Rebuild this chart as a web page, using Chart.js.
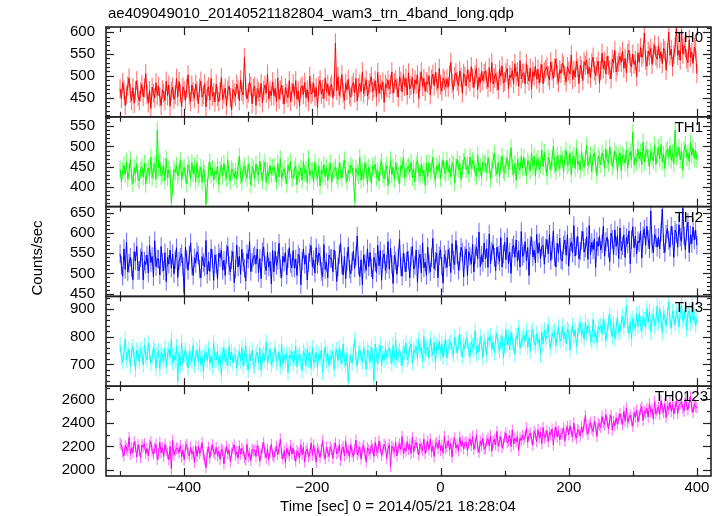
<!DOCTYPE html>
<html><head><meta charset="utf-8">
<script src="https://cdn.jsdelivr.net/npm/chart.js@4/dist/chart.umd.min.js"></script>
<style>html,body{margin:0;padding:0;background:#fff}canvas{display:block}</style>
</head><body>
<canvas id="c" width="723" height="516" style="width:723px;height:516px"></canvas>
<script>
const titleText = "ae409049010_20140521182804_wam3_trn_4band_long.qdp";
const xTitle = "Time [sec] 0 = 2014/05/21 18:28:04";
const yTitle = "Counts/sec";
const panelNames = ["TH0", "TH1", "TH2", "TH3", "TH0123"];
const xTicks = [-400, -200, 0, 200, 400];
const yTicksTH0 = [450, 500, 550, 600];
const yTicksTH1 = [400, 450, 500, 550];
const yTicksTH2 = [450, 500, 550, 600, 650];
const yTicksTH3 = [700, 800, 900];
const yTicksTH0123 = [2000, 2200, 2400, 2600];
// typical error-bar half length (counts/sec)
const errTH0 = 22, errTH1 = 21, errTH2 = 23, errTH3 = 28, errTH0123 = 48;

const timeSec = [
-500,-498,-496,-494,-492,-490,-488,-486,-484,-482,-480,-478,-476,-474,-472,
-470,-468,-466,-464,-462,-460,-458,-456,-454,-452,-450,-448,-446,-444,-442,
-440,-438,-436,-434,-432,-430,-428,-426,-424,-422,-420,-418,-416,-414,-412,
-410,-408,-406,-404,-402,-400,-398,-396,-394,-392,-390,-388,-386,-384,-382,
-380,-378,-376,-374,-372,-370,-368,-366,-364,-362,-360,-358,-356,-354,-352,
-350,-348,-346,-344,-342,-340,-338,-336,-334,-332,-330,-328,-326,-324,-322,
-320,-318,-316,-314,-312,-310,-308,-306,-304,-302,-300,-298,-296,-294,-292,
-290,-288,-286,-284,-282,-280,-278,-276,-274,-272,-270,-268,-266,-264,-262,
-260,-258,-256,-254,-252,-250,-248,-246,-244,-242,-240,-238,-236,-234,-232,
-230,-228,-226,-224,-222,-220,-218,-216,-214,-212,-210,-208,-206,-204,-202,
-200,-198,-196,-194,-192,-190,-188,-186,-184,-182,-180,-178,-176,-174,-172,
-170,-168,-166,-164,-162,-160,-158,-156,-154,-152,-150,-148,-146,-144,-142,
-140,-138,-136,-134,-132,-130,-128,-126,-124,-122,-120,-118,-116,-114,-112,
-110,-108,-106,-104,-102,-100,-98,-96,-94,-92,-90,-88,-86,-84,-82,
-80,-78,-76,-74,-72,-70,-68,-66,-64,-62,-60,-58,-56,-54,-52,
-50,-48,-46,-44,-42,-40,-38,-36,-34,-32,-30,-28,-26,-24,-22,
-20,-18,-16,-14,-12,-10,-8,-6,-4,-2,0,2,4,6,8,
10,12,14,16,18,20,22,24,26,28,30,32,34,36,38,
40,42,44,46,48,50,52,54,56,58,60,62,64,66,68,
70,72,74,76,78,80,82,84,86,88,90,92,94,96,98,
100,102,104,106,108,110,112,114,116,118,120,122,124,126,128,
130,132,134,136,138,140,142,144,146,148,150,152,154,156,158,
160,162,164,166,168,170,172,174,176,178,180,182,184,186,188,
190,192,194,196,198,200,202,204,206,208,210,212,214,216,218,
220,222,224,226,228,230,232,234,236,238,240,242,244,246,248,
250,252,254,256,258,260,262,264,266,268,270,272,274,276,278,
280,282,284,286,288,290,292,294,296,298,300,302,304,306,308,
310,312,314,316,318,320,322,324,326,328,330,332,334,336,338,
340,342,344,346,348,350,352,354,356,358,360,362,364,366,368,
370,372,374,376,378,380,382,384,386,388,390,392,394,396,398,
400];

const th0 = [
470,448,484,467,432,456,477,495,460,443,473,437,466,489,453,
443,463,480,452,472,505,457,438,466,425,474,460,449,484,455,
476,451,432,468,460,443,488,454,479,430,465,474,446,457,494,
452,487,460,429,475,466,444,471,502,456,441,479,463,448,481,
465,436,472,488,451,457,482,429,467,475,444,494,453,462,440,
481,453,441,464,496,446,458,472,431,467,477,450,422,469,461,
452,481,469,443,491,464,456,542,473,447,461,485,477,436,471,
476,432,471,463,451,483,438,467,479,460,504,447,465,454,486,
454,471,440,495,446,467,478,457,435,473,460,450,489,441,462,
482,453,489,446,465,430,472,477,457,485,450,468,441,499,458,
463,483,452,473,427,477,490,458,469,448,495,464,481,455,474,
480,449,476,575,466,498,455,472,503,461,444,483,467,492,456,
451,477,485,460,494,442,473,482,464,509,459,475,491,454,467,
484,498,464,471,489,452,508,460,480,468,486,439,481,473,490,
470,480,509,460,484,491,473,451,498,488,463,503,476,494,456,
507,470,478,496,459,491,481,502,448,488,509,475,494,464,486,
481,500,456,492,504,477,508,486,471,517,479,465,495,489,474,
493,474,502,531,483,468,498,507,488,477,511,496,460,505,499,
477,514,493,486,521,495,473,503,518,468,497,483,510,489,505,
511,492,474,519,485,530,481,495,505,488,468,514,499,523,483,
487,507,517,471,502,496,512,482,528,499,509,476,535,493,505,
507,481,528,502,488,518,470,510,499,522,492,515,483,506,526,
482,509,515,521,500,490,532,511,494,518,539,502,485,514,505,
529,523,501,486,521,511,504,548,492,513,497,534,518,482,524,
515,489,532,524,536,504,520,495,530,543,511,501,521,534,483,
513,552,516,534,504,545,524,514,493,538,529,558,509,523,532,
545,531,556,517,540,507,551,559,529,520,550,526,535,498,553,
531,565,542,550,598,536,522,557,547,563,526,553,571,545,538,
569,540,555,528,563,558,513,552,600,547,561,521,549,565,610,
547,558,536,605,550,569,563,539,530,583,542,554,528,566,560,
505];

const th1 = [
445,414,441,454,431,463,420,437,468,426,409,448,432,457,421,
416,442,450,425,459,407,438,447,429,474,424,440,456,419,540,
447,461,427,434,452,415,471,423,443,431,362,402,444,436,453,
427,437,466,417,441,448,430,408,455,445,420,460,433,451,413,
460,423,431,449,412,444,434,358,401,441,462,428,447,417,439,
431,450,406,442,454,427,458,436,421,467,429,415,445,439,424,
438,419,447,476,428,413,443,452,433,422,456,441,405,450,444,
420,457,436,429,464,438,416,446,461,411,440,426,453,432,448,
451,432,414,459,425,470,421,435,445,428,408,454,439,463,423,
422,442,452,406,437,431,447,417,463,434,444,411,470,428,440,
440,414,461,435,421,451,403,443,432,455,425,448,416,439,459,
410,437,443,449,428,418,460,439,422,446,467,430,413,442,433,
454,448,426,365,446,436,429,473,417,438,422,459,443,407,449,
435,409,452,444,456,424,440,415,450,463,431,421,441,454,403,
428,467,431,449,419,460,439,429,408,453,444,473,424,438,447,
451,437,462,423,446,413,457,465,435,426,456,432,441,404,459,
426,460,437,445,473,431,417,452,442,458,421,448,466,440,433,
466,437,452,425,460,455,410,449,469,444,458,418,446,462,474,
443,454,432,474,446,465,459,435,426,479,438,450,424,462,456,
458,436,472,455,420,444,465,483,448,431,461,425,454,477,441,
435,455,472,444,464,497,449,430,458,417,466,452,441,476,447,
473,448,429,465,457,440,485,451,476,427,462,471,443,454,491,
450,485,458,427,473,464,442,469,500,454,439,477,461,446,479,
467,438,474,490,453,459,484,431,469,477,446,496,455,464,442,
488,460,448,471,503,453,465,479,438,474,484,457,429,476,468,
455,484,472,446,494,467,459,499,476,450,464,488,480,439,474,
484,440,479,471,459,491,446,475,487,468,535,455,473,462,494,
469,486,455,510,461,482,493,472,450,488,475,465,504,456,477,
498,469,505,462,481,446,488,493,473,501,466,484,457,540,474,
478,498,467,488,442,492,505,473,484,463,510,479,496,470,489,
468];

const th2 = [
549,520,493,561,510,578,504,525,540,514,484,554,531,567,507,
508,539,554,484,531,522,546,501,570,527,542,492,581,517,536,
536,496,567,528,507,552,480,540,523,558,513,548,499,534,564,
490,531,540,549,517,452,566,534,508,545,576,520,495,539,525,
554,545,511,489,542,527,516,582,498,530,505,561,537,483,546,
525,486,551,539,557,508,533,495,548,567,519,504,534,554,477,
511,570,516,543,498,560,528,513,481,549,536,579,505,527,540,
545,523,561,502,537,487,554,566,520,507,552,516,530,474,557,
504,555,520,533,575,511,490,543,528,552,496,537,564,525,514,
557,513,536,495,548,540,472,531,561,523,545,484,527,551,569,
517,534,501,564,522,551,542,505,492,572,510,528,489,546,537,
537,504,558,533,480,516,548,575,522,496,542,487,531,566,511,
499,530,555,513,543,593,520,492,534,472,546,525,508,561,517,
552,514,486,540,528,502,570,519,557,483,536,549,507,523,579,
510,563,522,475,545,531,498,539,585,516,493,551,527,504,554,
533,489,543,567,511,520,558,478,536,548,501,576,514,528,495,
565,522,504,539,587,512,530,551,489,544,559,518,476,547,535,
515,559,541,502,574,533,521,582,547,508,529,565,553,491,544,
561,495,554,542,523,572,504,548,566,537,603,517,545,528,576,
536,562,515,598,524,556,572,540,507,565,545,530,589,516,548,
578,534,589,524,553,500,563,571,540,583,530,557,516,604,542,
549,579,532,564,495,570,590,541,558,526,597,550,576,537,566,
570,523,564,584,549,597,532,558,605,541,516,575,550,588,534,
531,571,583,545,596,518,565,578,551,619,543,568,592,536,555,
583,604,553,563,591,535,619,547,577,559,586,515,579,567,592,
558,573,617,543,579,590,562,529,600,585,547,608,567,594,537,
613,557,569,596,540,589,573,605,524,584,616,564,593,548,581,
576,605,538,593,611,570,617,584,561,655,573,552,597,588,565,
590,561,603,660,574,552,597,611,582,565,617,594,540,608,599,
565,621,590,579,662,593,559,605,627,552,596,574,615,583,608,
570];

const th3 = [
770,727,709,744,792,717,735,756,694,749,764,723,681,752,740,
710,754,736,697,769,728,716,777,742,703,724,760,748,686,739,
749,683,742,730,711,760,692,736,754,725,791,705,733,716,764,
640,742,695,778,704,736,752,720,687,745,725,710,769,696,728,
752,708,763,698,727,674,737,745,714,757,704,731,690,778,716,
717,747,700,732,663,738,758,709,726,694,765,718,744,705,734,
733,686,727,747,712,760,695,721,768,704,679,738,713,751,697,
693,733,745,707,758,680,727,740,713,781,705,730,754,698,717,
738,759,708,718,746,690,774,702,732,714,741,670,734,722,747,
706,721,765,691,727,738,710,677,748,733,695,756,715,742,685,
760,704,716,743,687,736,720,752,671,731,763,711,740,695,728,
719,748,681,736,754,713,760,727,704,773,716,695,740,636,708,
733,704,746,790,717,695,740,754,725,708,760,737,683,751,742,
707,763,732,640,774,735,701,747,769,694,738,716,757,725,750,
759,730,703,771,720,788,714,735,750,724,694,764,741,777,717,
728,759,774,704,751,742,766,721,790,747,762,712,801,737,756,
763,723,794,755,734,779,707,767,750,785,740,775,726,761,791,
723,764,773,782,750,735,799,767,741,778,809,753,728,772,758,
794,785,751,729,782,767,756,822,738,770,745,801,777,723,786,
772,733,798,786,804,755,780,742,795,814,766,751,781,801,724,
766,825,771,798,753,815,783,768,736,804,791,834,760,782,795,
805,783,821,762,797,747,814,826,780,767,812,776,790,734,817,
774,825,790,803,845,781,760,813,798,822,766,807,834,795,784,
837,793,816,775,828,820,752,811,841,803,825,764,807,831,849,
807,824,791,854,812,841,832,795,782,862,800,818,779,836,827,
842,809,863,838,785,821,853,880,827,801,847,792,836,871,816,
819,850,875,833,863,913,840,812,854,792,866,845,828,881,837,
885,847,819,873,861,835,903,852,890,816,869,882,840,856,912,
850,903,862,815,885,871,838,879,925,856,833,891,867,844,894,
880,836,890,914,858,867,905,825,883,895,848,923,861,875,842,
865];

const th0123 = [
2228,2213,2157,2120,2208,2183,2165,2275,2135,2188,2147,2240,2200,2110,2215,
2170,2105,2213,2193,2223,2142,2183,2120,2208,2240,2160,2135,2185,2218,2090,
2137,2235,2145,2190,2115,2218,2165,2140,2087,2200,2010,2250,2127,2163,2185,
2183,2147,2210,2112,2170,2087,2198,2218,2142,2120,2195,2135,2158,2065,2203,
2115,2200,2142,2163,2233,2127,2092,2020,2155,2195,2102,2170,2215,2150,2132,
2193,2120,2158,2090,2178,2165,2052,2150,2200,2137,2173,2072,2143,2183,2213,
2127,2155,2100,2205,2135,2183,2168,2107,2085,2218,2115,2145,2080,2175,2160,
2170,2115,2205,2163,2075,2135,2188,2233,2145,2102,2178,2087,2160,2218,2127,
2107,2158,2200,2130,2180,2263,2142,2095,2165,2062,2185,2150,2122,2210,2137,
2185,2122,2075,2165,2145,2102,2215,2130,2193,2070,2158,2180,2110,2137,2230,
2125,2213,2145,2067,2183,2160,2105,2173,2250,2135,2097,2193,2153,2115,2198,
2173,2100,2190,2230,2137,2152,2215,2082,2178,2198,2120,2245,2142,2165,2110,
2218,2147,2117,2175,2255,2130,2160,2195,2092,2183,2208,2140,2070,2188,2168,
2137,2210,2180,2115,2235,2167,2147,2248,2190,2125,2160,2220,2200,2097,2185,
2215,2030,2203,2183,2152,2233,2120,2193,2223,2175,2285,2142,2188,2160,2240,
2175,2218,2140,2278,2155,2208,2235,2182,2127,2223,2190,2165,2263,2142,2195,
2245,2172,2263,2155,2203,2115,2220,2233,2182,2253,2165,2210,2142,2288,2185,
2200,2250,2172,2225,2110,2235,2268,2187,2215,2162,2280,2202,2245,2180,2228,
2240,2162,2230,2263,2205,2285,2177,2220,2298,2192,2150,2248,2207,2270,2180,
2182,2248,2268,2205,2290,2160,2238,2260,2215,2328,2202,2243,2283,2190,2222,
2280,2315,2230,2247,2293,2200,2340,2220,2270,2240,2285,2167,2273,2253,2295,
2260,2285,2358,2235,2295,2313,2267,2212,2330,2305,2242,2343,2275,2320,2225,
2363,2270,2290,2335,2242,2323,2297,2350,2215,2315,2368,2282,2330,2255,2310,
2310,2358,2247,2338,2368,2300,2378,2323,2285,2400,2305,2270,2345,2330,2292,
2368,2320,2390,2463,2342,2305,2380,2403,2355,2327,2413,2375,2285,2398,2383,
2362,2455,2403,2385,2473,2408,2352,2428,2465,2340,2413,2377,2445,2392,2433,
2480,2432,2387,2500,2415,2528,2405,2440,2465,2422,2372,2488,2450,2510,2410,
2462,2513,2538,2422,2500,2485,2525,2450,2565,2493,2518,2435,2583,2477,2508,
2538,2472,2590,2525,2490,2565,2445,2545,2517,2575,2500,2558,2477,2535,2585,
2482,2550,2565,2580,2527,2502,2608,2555,2512,2573,2625,2532,2490,2563,2540,
2530];

const seriesValues = [th0, th1, th2, th3, th0123];
const seriesErr = [errTH0, errTH1, errTH2, errTH3, errTH0123];
const seriesTicks = [yTicksTH0, yTicksTH1, yTicksTH2, yTicksTH3, yTicksTH0123];

// styles / axis settings (not data)
const panelStyle = [
  {line:'#ff0000', bar:'rgba(255,0,0,0.55)',   min:406,  max:612,  minor:10,  major:50,  labelRight:703},
  {line:'#00ff00', bar:'rgba(0,255,0,0.55)',   min:352,  max:573,  minor:10,  major:50,  labelRight:703},
  {line:'#0000ff', bar:'rgba(0,0,255,0.55)',   min:443,  max:666,  minor:10,  major:50,  labelRight:703},
  {line:'#00ffff', bar:'rgba(0,255,255,0.55)', min:621,  max:946,  minor:20,  major:100, labelRight:703},
  {line:'#ff00ff', bar:'rgba(255,0,255,0.55)', min:1949, max:2713, minor:100, major:200, labelRight:708}
];
const FONT = "'Liberation Sans', Arial, Helvetica, sans-serif";
Chart.defaults.font.family = FONT;
Chart.defaults.font.size = 15;
Chart.defaults.color = '#000';

const datasets = [];
const scales = {
  x: {
    type:'linear', position:'bottom', min:-522, max:422, offset:false,
    grid:{display:false, drawTicks:false, offset:false}, border:{display:false},
    ticks:{padding:3, autoSkip:false, maxRotation:0, font:{size:15, family:FONT}, color:'#000',
      callback: v => (v < 0 ? '\u2212' + Math.abs(v) : String(v))},
    afterBuildTicks: s => { s.ticks = xTicks.map(v => ({value:v})); },
    afterFit: s => { s.height = 40; }
  }
};
// bottom panel defined first; the last-defined scale is placed on top of the stack
for (let i = seriesValues.length - 1; i >= 0; i--) {
  const st = panelStyle[i];
  scales['y' + i] = {
    type:'linear', position:'left', stack:'panels', stackWeight:1,
    min:st.min, max:st.max,
    grid:{display:false, drawTicks:false}, border:{display:false},
    ticks:{padding:11, autoSkip:false, font:{size:15, family:FONT}, color:'#000',
      callback: v => String(v)},
    afterBuildTicks: s => { s.ticks = seriesTicks[i].map(v => ({value:v})); },
    afterFit: s => { s.width = 60; }
  };
}
seriesValues.forEach((vals, i) => {
  const n = Math.min(vals.length, timeSec.length);
  const e = seriesErr[i];
  const pts = [], bars = [];
  for (let k = 0; k < n; k++) {
    pts.push({x:timeSec[k], y:vals[k]});
    bars.push({x:timeSec[k], y:[vals[k] - e, vals[k] + e]});
  }
  datasets.push({type:'bar', data:bars, yAxisID:'y'+i, backgroundColor:panelStyle[i].bar,
    borderWidth:0, grouped:false, barPercentage:0.85, categoryPercentage:1, order:2});
  datasets.push({type:'line', data:pts, yAxisID:'y'+i, borderColor:panelStyle[i].line, borderWidth:1,
    pointRadius:0, tension:0, borderJoinStyle:'bevel', fill:false, order:1});
});

const framePlugin = {
  id:'qdpFrame',
  afterDraw(chart) {
    const ctx = chart.ctx, a = chart.chartArea, xs = chart.scales.x;
    ctx.save();
    ctx.strokeStyle = '#222';
    const seg = (x1, y1, x2, y2) => { ctx.beginPath(); ctx.moveTo(x1, y1); ctx.lineTo(x2, y2); ctx.stroke(); };
    panelNames.forEach((name, i) => {
      const ys = chart.scales['y' + i], st = panelStyle[i];
      const top = ys.top, bot = ys.bottom;
      ctx.lineWidth = 1.6;
      ctx.strokeRect(a.left, top, a.right - a.left, bot - top);
      ctx.lineWidth = 1.2;
      for (let v = Math.ceil(st.min / st.minor) * st.minor; v <= st.max; v += st.minor) {
        const py = Math.round(ys.getPixelForValue(v)) + 0.5;
        const len = (v % st.major === 0) ? 8 : 4;
        seg(a.left, py, a.left + len, py);
        seg(a.right, py, a.right - len, py);
      }
      for (let v = -500; v <= 400; v += 100) {
        const px = Math.round(xs.getPixelForValue(v)) + 0.5;
        const len = (v % 200 === 0) ? 8 : 5;
        seg(px, top, px, top + len);
        seg(px, bot, px, bot - len);
      }
      ctx.fillStyle = '#000';
      ctx.font = '15px ' + FONT;
      ctx.textAlign = 'right';
      ctx.textBaseline = 'middle';
      ctx.fillText(name, st.labelRight, top + 11);
    });
    ctx.fillStyle = '#000';
    ctx.font = '15px ' + FONT;
    ctx.textAlign = 'left';
    ctx.textBaseline = 'middle';
    ctx.fillText(titleText, 108, 14);
    ctx.textAlign = 'center';
    ctx.fillText(xTitle, 398, 507);
    ctx.translate(38, 258);
    ctx.rotate(-Math.PI / 2);
    ctx.fillText(yTitle, 0, 0);
    ctx.restore();
  }
};

new Chart(document.getElementById('c'), {
  type:'line',
  data:{datasets},
  options:{
    responsive:false, animation:false, events:[],
    layout:{padding:{left:46, right:12, top:27, bottom:0}},
    plugins:{legend:{display:false}, tooltip:{enabled:false}, title:{display:false}},
    scales
  },
  plugins:[framePlugin]
});
</script>
</body></html>
